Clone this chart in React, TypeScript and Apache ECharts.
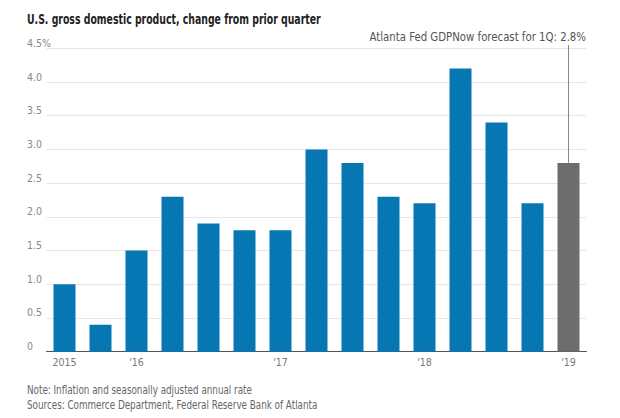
import React, { useEffect, useRef } from "react";
import * as echarts from "echarts";

const quarters = [
  "2015Q3", "2015Q4",
  "2016Q1", "2016Q2", "2016Q3", "2016Q4",
  "2017Q1", "2017Q2", "2017Q3", "2017Q4",
  "2018Q1", "2018Q2", "2018Q3", "2018Q4",
  "2019Q1",
];
const tickLabels = ["2015", "", "'16", "", "", "", "'17", "", "", "", "'18", "", "", "", "'19"];
const gdpChange = [1.0, 0.4, 1.5, 2.3, 1.9, 1.8, 1.8, 3.0, 2.8, 2.3, 2.2, 4.2, 3.4, 2.2, 2.8];
const isForecast = [false, false, false, false, false, false, false, false, false, false, false, false, false, false, true];
const yTicks = [0, 0.5, 1.0, 1.5, 2.0, 2.5, 3.0, 3.5, 4.0, 4.5];

const titleText = "U.S. gross domestic product, change from prior quarter";
const annotationText = "Atlanta Fed GDPNow forecast for 1Q: 2.8%";
const noteText = "Note: Inflation and seasonally adjusted annual rate";
const sourceText = "Sources: Commerce Department, Federal Reserve Bank of Atlanta";

const FONT = "'DejaVu Sans Condensed', 'DejaVu Sans', sans-serif";
const BLUE = "#0677b3";
const GRAY = "#6d6d6d";

export default function App() {
  const ref = useRef<HTMLDivElement>(null);

  useEffect(() => {
    document.body.style.margin = "0";
    if (!ref.current) return;
    const chart = echarts.init(ref.current, null, { renderer: "svg" });
    const yMax = yTicks[yTicks.length - 1];
    chart.setOption({
      animation: false,
      textStyle: { fontFamily: FONT },
      grid: { left: 46.5, right: 33.5, top: 48.3, bottom: 66.3 },
      xAxis: {
        type: "category",
        data: quarters,
        axisLine: { lineStyle: { color: "#555", width: 1 } },
        axisTick: { alignWithLabel: true, interval: 0, length: 4, lineStyle: { color: "#555" } },
        axisLabel: {
          interval: 0,
          margin: 5,
          color: "#777",
          fontSize: 10.5,
          fontFamily: FONT,
          formatter: (_v: string, i: number) => tickLabels[i],
        },
      },
      yAxis: {
        type: "value",
        min: 0,
        max: yMax,
        interval: 0.5,
        axisLine: { show: false },
        axisTick: { show: false },
        splitLine: { lineStyle: { color: "#e6e6e6", width: 1 } },
        axisLabel: {
          align: "left",
          verticalAlign: "bottom",
          margin: 19.5,
          color: "#888",
          fontSize: 10.5,
          fontFamily: FONT,
          formatter: (v: number) => (v === yMax ? v.toFixed(1) + "%" : v === 0 ? "0" : v.toFixed(1)),
        },
      },
      series: [
        {
          type: "bar",
          barWidth: 22,
          data: gdpChange.map((v, i) => ({
            value: v,
            itemStyle: { color: isForecast[i] ? GRAY : BLUE },
          })),
        },
      ],
    });

    const fi = isForecast.indexOf(true);
    const top = chart.convertToPixel({ gridIndex: 0 }, [fi, gdpChange[fi]]) as number[];
    chart.setOption({
      graphic: [
        {
          type: "text",
          x: 27,
          y: 20,
          scaleX: 0.77,
          style: {
            text: titleText,
            fontSize: 13.5,
            fontWeight: "bold",
            fill: "#222",
            fontFamily: FONT,
            align: "left",
            verticalAlign: "middle",
          },
        },
        {
          type: "text",
          x: 586,
          y: 37,
          scaleX: 0.87,
          style: {
            text: annotationText,
            fontSize: 13,
            fill: "#555",
            fontFamily: FONT,
            align: "right",
            verticalAlign: "middle",
          },
        },
        {
          type: "line",
          shape: { x1: top[0], y1: 45, x2: top[0], y2: top[1] },
          style: { stroke: "#888", lineWidth: 1 },
        },
        {
          type: "text",
          x: 27,
          y: 390,
          scaleX: 0.85,
          style: { text: noteText, fontSize: 11.5, fill: "#666", fontFamily: FONT, align: "left", verticalAlign: "middle" },
        },
        {
          type: "text",
          x: 27,
          y: 405,
          scaleX: 0.85,
          style: { text: sourceText, fontSize: 11.5, fill: "#666", fontFamily: FONT, align: "left", verticalAlign: "middle" },
        },
      ],
    });

    return () => chart.dispose();
  }, []);

  return <div ref={ref} style={{ width: 620, height: 418 }} />;
}
